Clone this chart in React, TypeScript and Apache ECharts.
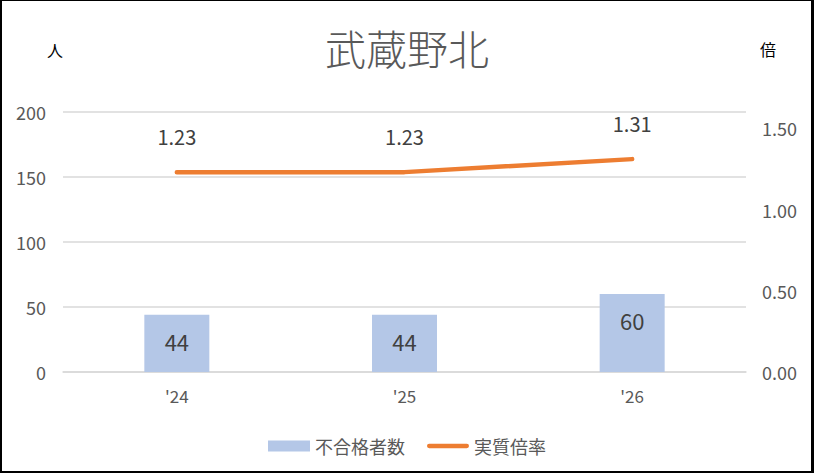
import React, { useEffect, useRef } from "react";
import * as echarts from "echarts";

const categories = ["'24", "'25", "'26"];
const failCounts = [44, 44, 60];
const ratios = [1.23, 1.23, 1.31];
const leftTicks = { min: 0, max: 200, interval: 50 };
const rightTicks = { min: 0, max: 1.6, interval: 0.5 };

const FONT = "'Noto Sans CJK JP', 'Noto Sans', sans-serif";
const TEXT = "#595959";

export default function App() {
  const ref = useRef<HTMLDivElement>(null);
  useEffect(() => {
    if (!ref.current) return;
    const chart = echarts.init(ref.current, null, { renderer: "svg" });
    chart.setOption({
      animation: false,
      backgroundColor: "#ffffff",
      textStyle: { fontFamily: FONT, color: TEXT },
      title: {
        text: "武蔵野北",
        left: "center",
        top: 21,
        textStyle: { fontFamily: FONT, fontSize: 41, fontWeight: 300, color: TEXT },
      },
      grid: { left: 63, right: 68, top: 112, bottom: 101 },
      legend: {
        bottom: 13,
        left: "center",
        itemWidth: 42,
        itemHeight: 11,
        itemGap: 22,
        textStyle: { fontFamily: FONT, fontSize: 18, color: TEXT },
        data: [
          { name: "不合格者数", icon: "rect" },
          {
            name: "実質倍率",
            icon: "path://M2.25,0 H41.75 A2.25,2.25 0 0 1 41.75,4.5 H2.25 A2.25,2.25 0 0 1 2.25,0 Z",
          },
        ],
      },
      graphic: [
        { type: "text", left: 47, top: 42, style: { text: "人", font: `16px ${FONT}`, fill: "#000" } },
        { type: "text", left: 760, top: 41, style: { text: "倍", font: `16px ${FONT}`, fill: "#000" } },
      ],
      xAxis: {
        type: "category",
        data: categories,
        axisLine: { lineStyle: { color: "#D9D9D9", width: 1.5 } },
        axisTick: { show: false },
        axisLabel: { fontFamily: FONT, fontSize: 17, color: TEXT, margin: 15 },
      },
      yAxis: [
        {
          type: "value",
          min: leftTicks.min,
          max: leftTicks.max,
          interval: leftTicks.interval,
          axisLine: { show: false },
          axisTick: { show: false },
          splitLine: { lineStyle: { color: "#D9D9D9", width: 1.5 } },
          axisLabel: { fontFamily: FONT, fontSize: 18, color: TEXT, margin: 17 },
        },
        {
          type: "value",
          min: rightTicks.min,
          max: rightTicks.max,
          interval: rightTicks.interval,
          axisLine: { show: false },
          axisTick: { show: false },
          splitLine: { show: false },
          axisLabel: {
            fontFamily: FONT,
            fontSize: 18,
            color: TEXT,
            margin: 16,
            formatter: (v: number) =>
              Math.abs(v * 2 - Math.round(v * 2)) < 1e-6 ? v.toFixed(2) : "",
          },
        },
      ],
      series: [
        {
          name: "不合格者数",
          type: "bar",
          data: failCounts,
          barWidth: 65,
          itemStyle: { color: "#B4C7E7" },
          label: {
            show: true,
            position: "insideTop",
            distance: 15,
            fontFamily: FONT,
            fontSize: 22,
            color: "#404040",
          },
        },
        {
          name: "実質倍率",
          type: "line",
          yAxisIndex: 1,
          data: ratios,
          symbol: "circle",
          symbolSize: 0,
          showSymbol: true,
          lineStyle: { color: "#ED7D31", width: 4.5, cap: "round" },
          itemStyle: { color: "#ED7D31" },
          label: {
            show: true,
            position: "top",
            distance: 26,
            fontFamily: FONT,
            fontSize: 20,
            color: "#404040",
            formatter: (p: any) => Number(p.value).toFixed(2),
          },
        },
      ],
    });
    return () => chart.dispose();
  }, []);
  return (
    <div style={{ position: "absolute", left: 0, top: 0, width: 814, height: 473 }}>
      <div ref={ref} style={{ width: 814, height: 473 }} />
      <div
        style={{
          position: "absolute",
          left: 0,
          top: 0,
          width: 814,
          height: 473,
          boxSizing: "border-box",
          borderStyle: "solid",
          borderColor: "#000",
          borderWidth: "1px 3px 2px 2px",
          pointerEvents: "none",
        }}
      />
    </div>
  );
}
